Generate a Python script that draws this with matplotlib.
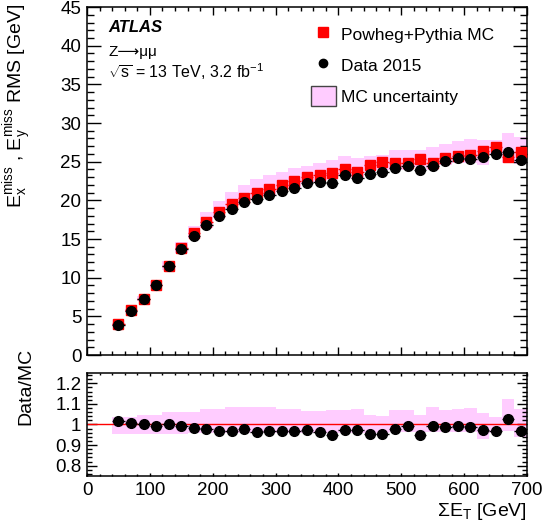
import numpy as np
import matplotlib
matplotlib.use("Agg")
import matplotlib.pyplot as plt
from matplotlib.lines import Line2D
from matplotlib.patches import Patch
from matplotlib.ticker import MultipleLocator

plt.rcParams['font.family'] = ['Liberation Sans', 'DejaVu Sans']
plt.rcParams['mathtext.fontset'] = 'custom'
plt.rcParams['mathtext.rm'] = 'Liberation Sans'
plt.rcParams['mathtext.it'] = 'Liberation Sans:italic'
plt.rcParams['mathtext.bf'] = 'Liberation Sans:bold'

# sum ET bin centres (20 GeV bins from 40 to 700)
sumet = np.arange(50, 700, 20)

mc_rms = [4.0, 5.8, 7.3, 9.1, 11.5, 13.8, 15.77, 17.18, 18.54, 19.5, 20.26,
          20.94, 21.45, 21.96, 22.44, 22.99, 23.33, 23.59, 24.05, 23.72, 24.62,
          24.91, 24.87, 24.87, 25.29, 24.78, 25.46, 25.72, 25.85, 26.36, 26.92,
          25.59, 26.23]
data_rms = [3.92, 5.72, 7.22, 9.05, 11.45, 13.67, 15.42, 16.83, 18.03, 18.88,
            19.82, 20.17, 20.68, 21.23, 21.62, 22.22, 22.38, 22.3, 23.24, 22.86,
            23.41, 23.72, 24.18, 24.49, 23.97, 24.49, 25.04, 25.42, 25.38, 25.64,
            25.94, 26.28, 25.2]
ratio = [1.017, 1.007, 1.003, 0.992, 1.003, 0.995, 0.982, 0.978, 0.968, 0.970,
         0.976, 0.963, 0.968, 0.970, 0.970, 0.971, 0.963, 0.950, 0.971, 0.971,
         0.953, 0.953, 0.979, 0.992, 0.950, 0.992, 0.987, 0.992, 0.987, 0.971,
         0.966, 1.028, 0.970]
ratio_err = [0.004, 0.004, 0.004, 0.004, 0.004, 0.004, 0.004, 0.004, 0.004, 0.005,
             0.005, 0.005, 0.005, 0.005, 0.006, 0.006, 0.006, 0.007, 0.007, 0.007,
             0.008, 0.008, 0.009, 0.009, 0.01, 0.01, 0.011, 0.011, 0.012, 0.013,
             0.014, 0.02, 0.016]
# relative MC uncertainty (up / down)
unc_up = [0.035, 0.035, 0.048, 0.048, 0.06, 0.06, 0.06, 0.076, 0.076, 0.084, 0.084,
          0.084, 0.087, 0.076, 0.076, 0.065, 0.065, 0.068, 0.068, 0.076, 0.044,
          0.039, 0.068, 0.068, 0.048, 0.087, 0.071, 0.076, 0.08, 0.055, 0.035,
          0.124, 0.076]
unc_down = [0.048, 0.048, 0.048, 0.045, 0.045, 0.045, 0.042, 0.042, 0.042, 0.04,
            0.04, 0.04, 0.04, 0.04, 0.04, 0.04, 0.04, 0.04, 0.04, 0.04, 0.04,
            0.04, 0.037, 0.037, 0.037, 0.037, 0.037, 0.037, 0.037, 0.07, 0.04,
            0.03, 0.06]

mc_rms = np.array(mc_rms)
data_rms = np.array(data_rms)
unc_up = np.array(unc_up)
unc_down = np.array(unc_down)

pink = '#ffccff'

fig = plt.figure(figsize=(5.48, 5.29), dpi=100)
ax = fig.add_axes([0.1588, 0.3289, 0.8029, 0.6578])
ax2 = fig.add_axes([0.1588, 0.1002, 0.8029, 0.1947])

# top panel
ax.bar(sumet, mc_rms * (unc_up + unc_down), bottom=mc_rms * (1 - unc_down),
       width=20, color=pink, linewidth=0, zorder=1)
ax.errorbar(sumet, mc_rms, xerr=10, yerr=0.08, fmt='s', color='red', ms=6.5,
            elinewidth=1, capsize=0, zorder=3)
ax.errorbar(sumet, data_rms, xerr=10, yerr=0.1, fmt='o', color='black', ms=7,
            elinewidth=1, capsize=0, zorder=4)

ax.set_xlim(0, 700)
ax.set_ylim(0, 45)
ax.xaxis.set_major_locator(MultipleLocator(100))
ax.xaxis.set_minor_locator(MultipleLocator(20))
ax.yaxis.set_major_locator(MultipleLocator(5))
ax.yaxis.set_minor_locator(MultipleLocator(1))
ax.tick_params(which='both', direction='in', top=True, right=True, labelsize=13.5, pad=4)
ax.tick_params(axis='y', which='major', length=10, width=1)
ax.tick_params(axis='y', which='minor', length=5, width=1)
ax.tick_params(axis='x', which='major', length=6, width=1)
ax.tick_params(axis='x', which='minor', length=3, width=1)
ax.tick_params(axis='x', labelbottom=False)
for s in ax.spines.values():
    s.set_linewidth(1.1)

ax.set_ylabel(r'$\mathrm{E_{x}^{miss}}$ , $\mathrm{E_{y}^{miss}}$ RMS [GeV]', fontsize=14)
ax.yaxis.set_label_coords(-0.12, 0.715)

ax.text(0.048, 0.94, 'ATLAS', transform=ax.transAxes, fontsize=12,
        fontweight='bold', fontstyle='italic', va='center')
ax.text(0.048, 0.871, 'Z⟶μμ', transform=ax.transAxes, fontsize=11,
        va='center')
ax.text(0.048, 0.813, r'$\sqrt{\mathrm{s}}$ = 13 TeV, 3.2 fb$^{-1}$',
        transform=ax.transAxes, fontsize=11.5, va='center')

handles = [Line2D([], [], marker='s', color='red', ls='none', ms=6.5),
           Line2D([], [], marker='o', color='black', ls='none', ms=6),
           Patch(facecolor=pink, edgecolor='#444444', linewidth=1)]
labels = ['Powheg+Pythia MC', 'Data 2015', 'MC uncertainty']
ax.legend(handles, labels, loc='upper left', bbox_to_anchor=(0.508, 0.9526),
          frameon=False, fontsize=12.5, borderpad=0, borderaxespad=0,
          handlelength=1.45, handleheight=1.45, handletextpad=0.3, labelspacing=0.6)

# ratio panel
ax2.bar(sumet, unc_up + unc_down, bottom=1 - unc_down, width=20, color=pink,
        linewidth=0, zorder=1)
ax2.axhline(1, color='red', lw=1, zorder=2)
ax2.errorbar(sumet, ratio, xerr=10, yerr=ratio_err, fmt='o', color='black', ms=7,
             elinewidth=1, capsize=0, zorder=4)
ax2.set_xlim(0, 700)
ax2.set_ylim(0.75, 1.25)
ax2.xaxis.set_major_locator(MultipleLocator(100))
ax2.xaxis.set_minor_locator(MultipleLocator(20))
ax2.yaxis.set_minor_locator(MultipleLocator(0.02))
ax2.set_yticks([0.8, 0.9, 1.0, 1.1, 1.2])
ax2.set_yticklabels(['0.8', '0.9', '1', '1.1', '1.2'])
ax2.tick_params(which='both', direction='in', top=True, right=True, labelsize=13.5, pad=4)
ax2.tick_params(axis='y', which='major', length=7, width=1)
ax2.tick_params(axis='y', which='minor', length=3.5, width=1)
ax2.tick_params(axis='x', which='major', length=2.5, width=1)
ax2.tick_params(axis='x', which='minor', length=1.5, width=1)
for s in ax2.spines.values():
    s.set_linewidth(1.1)

ax2.set_ylabel('Data/MC', fontsize=14)
ax2.yaxis.set_label_coords(-0.12, 0.87)
ax2.set_xlabel(r'$\Sigma\mathrm{E_{T}}$ [GeV]', fontsize=14, loc='right', labelpad=2)

fig.savefig('out.png', dpi=100)
